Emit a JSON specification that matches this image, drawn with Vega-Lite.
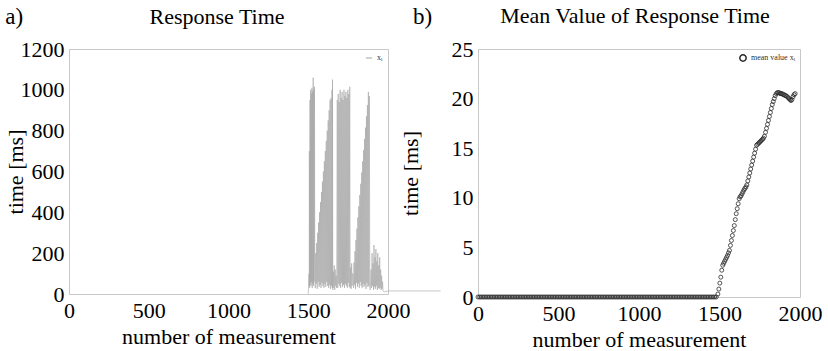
{
  "$schema": "https://vega.github.io/schema/vega-lite/v6.json",
  "background": "white",
  "padding": {"left": 3, "top": 4, "right": 0, "bottom": 0},
  "bounds": "flush",
  "spacing": 90,
  "config": {
    "font": "Liberation Serif",
    "view": {"stroke": "#c8c8c8", "strokeWidth": 1},
    "style": {"guide-label": {"font": "Liberation Serif"}, "guide-title": {"font": "Liberation Serif"}},
    "axis": {"labelFont": "Liberation Serif", "titleFont": "Liberation Serif", "labelFontSize": 22, "titleFontSize": 22, "titleFontWeight": "normal", "labelColor": "#000", "titleColor": "#000", "domainColor": "#c8c8c8", "ticks": false, "grid": false, "labelPadding": 5, "labelFlush": false, "labelOverlap": false, "format": "d"},
    "text": {"font": "Liberation Serif", "color": "#000"},
    "legend": {"labelFont": "Liberation Serif", "labelFontSize": 8, "labelColor": "#333333", "padding": 2, "offset": 3, "symbolSize": 40}
  },
  "datasets": {
    "resp": [
      {"n": 1500, "t": 0}, {"n": 1505, "t": 100}, {"n": 1506, "t": 40}, {"n": 1507, "t": 700}, {"n": 1509, "t": 30}, {"n": 1511, "t": 950}, {"n": 1513, "t": 50}, {"n": 1515, "t": 1000}, {"n": 1517, "t": 40}, {"n": 1519, "t": 980}, {"n": 1521, "t": 60}, {"n": 1523, "t": 1010}, {"n": 1525, "t": 30}, {"n": 1527, "t": 990}, {"n": 1529, "t": 50}, {"n": 1531, "t": 1060}, {"n": 1533, "t": 40}, {"n": 1535, "t": 1000}, {"n": 1537, "t": 60}, {"n": 1539, "t": 1015},
      {"n": 1541, "t": 150}, {"n": 1544, "t": 30}, {"n": 1547, "t": 200}, {"n": 1550, "t": 50}, {"n": 1553, "t": 250}, {"n": 1556, "t": 25}, {"n": 1559, "t": 300}, {"n": 1562, "t": 60}, {"n": 1565, "t": 350}, {"n": 1568, "t": 35}, {"n": 1571, "t": 400}, {"n": 1574, "t": 45}, {"n": 1577, "t": 450}, {"n": 1580, "t": 30}, {"n": 1583, "t": 500}, {"n": 1586, "t": 55}, {"n": 1589, "t": 550}, {"n": 1592, "t": 40}, {"n": 1595, "t": 600}, {"n": 1598, "t": 30}, {"n": 1601, "t": 650}, {"n": 1604, "t": 50}, {"n": 1607, "t": 700}, {"n": 1610, "t": 35}, {"n": 1613, "t": 750}, {"n": 1616, "t": 60}, {"n": 1619, "t": 800}, {"n": 1622, "t": 40}, {"n": 1625, "t": 850}, {"n": 1628, "t": 30}, {"n": 1631, "t": 900}, {"n": 1634, "t": 45}, {"n": 1637, "t": 950}, {"n": 1640, "t": 25}, {"n": 1643, "t": 960}, {"n": 1646, "t": 40}, {"n": 1649, "t": 1000}, {"n": 1651, "t": 30}, {"n": 1652, "t": 1050}, {"n": 1654, "t": 20},
      {"n": 1657, "t": 110}, {"n": 1660, "t": 30}, {"n": 1663, "t": 140}, {"n": 1666, "t": 20}, {"n": 1669, "t": 120}, {"n": 1672, "t": 40}, {"n": 1675, "t": 90}, {"n": 1678, "t": 30},
      {"n": 1682, "t": 950}, {"n": 1685, "t": 30}, {"n": 1688, "t": 980}, {"n": 1691, "t": 50}, {"n": 1694, "t": 940}, {"n": 1697, "t": 40}, {"n": 1700, "t": 1000}, {"n": 1703, "t": 30}, {"n": 1706, "t": 960}, {"n": 1709, "t": 55}, {"n": 1712, "t": 990}, {"n": 1715, "t": 35}, {"n": 1718, "t": 950}, {"n": 1721, "t": 45}, {"n": 1724, "t": 1000}, {"n": 1727, "t": 30}, {"n": 1730, "t": 970}, {"n": 1733, "t": 50}, {"n": 1736, "t": 990}, {"n": 1739, "t": 40}, {"n": 1742, "t": 960}, {"n": 1745, "t": 30}, {"n": 1748, "t": 1000}, {"n": 1751, "t": 55}, {"n": 1754, "t": 980}, {"n": 1757, "t": 35}, {"n": 1760, "t": 1015}, {"n": 1763, "t": 30},
      {"n": 1766, "t": 130}, {"n": 1769, "t": 25}, {"n": 1772, "t": 150}, {"n": 1775, "t": 40}, {"n": 1778, "t": 100},
      {"n": 1781, "t": 100}, {"n": 1784, "t": 30}, {"n": 1787, "t": 155}, {"n": 1790, "t": 45}, {"n": 1793, "t": 210}, {"n": 1796, "t": 25}, {"n": 1799, "t": 265}, {"n": 1802, "t": 55}, {"n": 1805, "t": 320}, {"n": 1808, "t": 35}, {"n": 1811, "t": 375}, {"n": 1814, "t": 50}, {"n": 1817, "t": 430}, {"n": 1820, "t": 30}, {"n": 1823, "t": 485}, {"n": 1826, "t": 60}, {"n": 1829, "t": 540}, {"n": 1832, "t": 40}, {"n": 1835, "t": 595}, {"n": 1838, "t": 30}, {"n": 1841, "t": 650}, {"n": 1844, "t": 50}, {"n": 1847, "t": 705}, {"n": 1850, "t": 35}, {"n": 1853, "t": 760}, {"n": 1856, "t": 45}, {"n": 1859, "t": 815}, {"n": 1862, "t": 25}, {"n": 1865, "t": 870}, {"n": 1868, "t": 55}, {"n": 1871, "t": 925}, {"n": 1874, "t": 35}, {"n": 1877, "t": 990}, {"n": 1880, "t": 40}, {"n": 1883, "t": 970}, {"n": 1886, "t": 30}, {"n": 1889, "t": 20},
      {"n": 1894, "t": 120}, {"n": 1897, "t": 30}, {"n": 1900, "t": 200}, {"n": 1903, "t": 40}, {"n": 1906, "t": 150}, {"n": 1909, "t": 20}, {"n": 1912, "t": 240}, {"n": 1915, "t": 35}, {"n": 1918, "t": 180}, {"n": 1921, "t": 25}, {"n": 1924, "t": 220}, {"n": 1927, "t": 40}, {"n": 1930, "t": 160}, {"n": 1933, "t": 20}, {"n": 1936, "t": 200}, {"n": 1939, "t": 30}, {"n": 1942, "t": 140}, {"n": 1945, "t": 25}, {"n": 1948, "t": 180}, {"n": 1951, "t": 30}, {"n": 1954, "t": 120}, {"n": 1957, "t": 20}, {"n": 1960, "t": 90}, {"n": 1963, "t": 25}, {"n": 1966, "t": 60}, {"n": 1969, "t": 15}, {"n": 1975, "t": 10}, {"n": 2000, "t": 15}, {"n": 2330, "t": 15}
    ],
    "mean": [
      {"n": 0, "m": 0}, {"n": 10, "m": 0}, {"n": 20, "m": 0}, {"n": 30, "m": 0}, {"n": 40, "m": 0}, {"n": 50, "m": 0}, {"n": 60, "m": 0}, {"n": 70, "m": 0}, {"n": 80, "m": 0}, {"n": 90, "m": 0},
      {"n": 100, "m": 0}, {"n": 110, "m": 0}, {"n": 120, "m": 0}, {"n": 130, "m": 0}, {"n": 140, "m": 0}, {"n": 150, "m": 0}, {"n": 160, "m": 0}, {"n": 170, "m": 0}, {"n": 180, "m": 0}, {"n": 190, "m": 0},
      {"n": 200, "m": 0}, {"n": 210, "m": 0}, {"n": 220, "m": 0}, {"n": 230, "m": 0}, {"n": 240, "m": 0}, {"n": 250, "m": 0}, {"n": 260, "m": 0}, {"n": 270, "m": 0}, {"n": 280, "m": 0}, {"n": 290, "m": 0},
      {"n": 300, "m": 0}, {"n": 310, "m": 0}, {"n": 320, "m": 0}, {"n": 330, "m": 0}, {"n": 340, "m": 0}, {"n": 350, "m": 0}, {"n": 360, "m": 0}, {"n": 370, "m": 0}, {"n": 380, "m": 0}, {"n": 390, "m": 0},
      {"n": 400, "m": 0}, {"n": 410, "m": 0}, {"n": 420, "m": 0}, {"n": 430, "m": 0}, {"n": 440, "m": 0}, {"n": 450, "m": 0}, {"n": 460, "m": 0}, {"n": 470, "m": 0}, {"n": 480, "m": 0}, {"n": 490, "m": 0},
      {"n": 500, "m": 0}, {"n": 510, "m": 0}, {"n": 520, "m": 0}, {"n": 530, "m": 0}, {"n": 540, "m": 0}, {"n": 550, "m": 0}, {"n": 560, "m": 0}, {"n": 570, "m": 0}, {"n": 580, "m": 0}, {"n": 590, "m": 0},
      {"n": 600, "m": 0}, {"n": 610, "m": 0}, {"n": 620, "m": 0}, {"n": 630, "m": 0}, {"n": 640, "m": 0}, {"n": 650, "m": 0}, {"n": 660, "m": 0}, {"n": 670, "m": 0}, {"n": 680, "m": 0}, {"n": 690, "m": 0},
      {"n": 700, "m": 0}, {"n": 710, "m": 0}, {"n": 720, "m": 0}, {"n": 730, "m": 0}, {"n": 740, "m": 0}, {"n": 750, "m": 0}, {"n": 760, "m": 0}, {"n": 770, "m": 0}, {"n": 780, "m": 0}, {"n": 790, "m": 0},
      {"n": 800, "m": 0}, {"n": 810, "m": 0}, {"n": 820, "m": 0}, {"n": 830, "m": 0}, {"n": 840, "m": 0}, {"n": 850, "m": 0}, {"n": 860, "m": 0}, {"n": 870, "m": 0}, {"n": 880, "m": 0}, {"n": 890, "m": 0},
      {"n": 900, "m": 0}, {"n": 910, "m": 0}, {"n": 920, "m": 0}, {"n": 930, "m": 0}, {"n": 940, "m": 0}, {"n": 950, "m": 0}, {"n": 960, "m": 0}, {"n": 970, "m": 0}, {"n": 980, "m": 0}, {"n": 990, "m": 0},
      {"n": 1000, "m": 0}, {"n": 1010, "m": 0}, {"n": 1020, "m": 0}, {"n": 1030, "m": 0}, {"n": 1040, "m": 0}, {"n": 1050, "m": 0}, {"n": 1060, "m": 0}, {"n": 1070, "m": 0}, {"n": 1080, "m": 0}, {"n": 1090, "m": 0},
      {"n": 1100, "m": 0}, {"n": 1110, "m": 0}, {"n": 1120, "m": 0}, {"n": 1130, "m": 0}, {"n": 1140, "m": 0}, {"n": 1150, "m": 0}, {"n": 1160, "m": 0}, {"n": 1170, "m": 0}, {"n": 1180, "m": 0}, {"n": 1190, "m": 0},
      {"n": 1200, "m": 0}, {"n": 1210, "m": 0}, {"n": 1220, "m": 0}, {"n": 1230, "m": 0}, {"n": 1240, "m": 0}, {"n": 1250, "m": 0}, {"n": 1260, "m": 0}, {"n": 1270, "m": 0}, {"n": 1280, "m": 0}, {"n": 1290, "m": 0},
      {"n": 1300, "m": 0}, {"n": 1310, "m": 0}, {"n": 1320, "m": 0}, {"n": 1330, "m": 0}, {"n": 1340, "m": 0}, {"n": 1350, "m": 0}, {"n": 1360, "m": 0}, {"n": 1370, "m": 0}, {"n": 1380, "m": 0}, {"n": 1390, "m": 0},
      {"n": 1400, "m": 0}, {"n": 1410, "m": 0}, {"n": 1420, "m": 0}, {"n": 1430, "m": 0}, {"n": 1440, "m": 0}, {"n": 1450, "m": 0}, {"n": 1460, "m": 0}, {"n": 1470, "m": 0}, {"n": 1480, "m": 0},
      {"n": 1490, "m": 0.3}, {"n": 1496, "m": 0.8}, {"n": 1502, "m": 1.4}, {"n": 1508, "m": 2.0}, {"n": 1514, "m": 2.7},
      {"n": 1520, "m": 3.2}, {"n": 1526, "m": 3.4}, {"n": 1532, "m": 3.6}, {"n": 1538, "m": 3.8}, {"n": 1544, "m": 4.0}, {"n": 1550, "m": 4.2}, {"n": 1556, "m": 4.45}, {"n": 1562, "m": 4.7},
      {"n": 1568, "m": 5.2}, {"n": 1574, "m": 5.7}, {"n": 1580, "m": 6.2}, {"n": 1586, "m": 6.7}, {"n": 1592, "m": 7.2}, {"n": 1598, "m": 7.8}, {"n": 1604, "m": 8.4}, {"n": 1610, "m": 8.9}, {"n": 1616, "m": 9.4}, {"n": 1622, "m": 9.9},
      {"n": 1628, "m": 10.1}, {"n": 1634, "m": 10.2}, {"n": 1640, "m": 10.4}, {"n": 1646, "m": 10.6}, {"n": 1652, "m": 10.8}, {"n": 1658, "m": 10.95}, {"n": 1664, "m": 11.1}, {"n": 1670, "m": 11.3},
      {"n": 1676, "m": 11.7}, {"n": 1682, "m": 12.1}, {"n": 1688, "m": 12.5}, {"n": 1694, "m": 12.9}, {"n": 1700, "m": 13.3}, {"n": 1706, "m": 13.7}, {"n": 1712, "m": 14.1}, {"n": 1718, "m": 14.5}, {"n": 1724, "m": 14.9}, {"n": 1730, "m": 15.3},
      {"n": 1737, "m": 15.4}, {"n": 1743, "m": 15.5}, {"n": 1749, "m": 15.6}, {"n": 1755, "m": 15.7}, {"n": 1761, "m": 15.8}, {"n": 1767, "m": 15.9}, {"n": 1773, "m": 16.0}, {"n": 1779, "m": 16.2},
      {"n": 1786, "m": 16.6}, {"n": 1792, "m": 17.0}, {"n": 1798, "m": 17.4}, {"n": 1804, "m": 17.8}, {"n": 1810, "m": 18.2}, {"n": 1816, "m": 18.6}, {"n": 1822, "m": 19.0}, {"n": 1828, "m": 19.4}, {"n": 1834, "m": 19.7}, {"n": 1840, "m": 20.0}, {"n": 1846, "m": 20.3},
      {"n": 1853, "m": 20.5}, {"n": 1859, "m": 20.6}, {"n": 1865, "m": 20.6}, {"n": 1871, "m": 20.6}, {"n": 1877, "m": 20.5}, {"n": 1883, "m": 20.5}, {"n": 1889, "m": 20.5}, {"n": 1895, "m": 20.4}, {"n": 1901, "m": 20.4}, {"n": 1907, "m": 20.3}, {"n": 1913, "m": 20.3},
      {"n": 1920, "m": 20.2}, {"n": 1926, "m": 20.1}, {"n": 1932, "m": 20.0}, {"n": 1938, "m": 19.9}, {"n": 1944, "m": 19.8}, {"n": 1950, "m": 19.9},
      {"n": 1957, "m": 20.2}, {"n": 1963, "m": 20.4}, {"n": 1970, "m": 20.5}
    ],
    "labels": [
      {"panel": "a", "text": "a)", "kind": "tag"},
      {"panel": "a", "text": "Response Time", "kind": "title"},
      {"panel": "b", "text": "b)", "kind": "tag"},
      {"panel": "b", "text": "Mean Value of Response Time", "kind": "title"}
    ]
  },
  "resolve": {"scale": {"color": "independent"}, "legend": {"color": "independent"}},
  "hconcat": [
    {
      "width": 319,
      "height": 245,
      "layer": [
        {
          "data": {"name": "resp"},
          "transform": [{"calculate": "'xᵢ'", "as": "s"}],
          "mark": {"type": "line", "strokeWidth": 0.6, "clip": false},
          "encoding": {
            "x": {"field": "n", "type": "quantitative", "scale": {"domain": [0, 2000], "nice": false}, "axis": {"values": [0, 500, 1000, 1500, 2000], "title": "number of measurement", "titlePadding": 5, "labelPadding": 6}},
            "y": {"field": "t", "type": "quantitative", "scale": {"domain": [0, 1200], "nice": false}, "axis": {"values": [0, 200, 400, 600, 800, 1000, 1200], "title": "time [ms]", "titlePadding": -7}},
            "color": {"field": "s", "type": "nominal", "scale": {"range": ["#a4a4a4"]}, "legend": {"title": null, "orient": "top-right", "symbolType": "stroke", "symbolStrokeWidth": 1}}
          }
        },
        {
          "data": {"name": "labels"},
          "transform": [{"filter": "datum.panel == 'a' && datum.kind == 'tag'"}],
          "mark": {"type": "text", "fontSize": 23, "align": "left", "baseline": "middle", "font": "Liberation Serif", "color": "#000"},
          "encoding": {"x": {"datum": -400}, "y": {"datum": 1357}, "text": {"field": "text"}}
        },
        {
          "data": {"name": "labels"},
          "transform": [{"filter": "datum.panel == 'a' && datum.kind == 'title'"}],
          "mark": {"type": "text", "fontSize": 22, "align": "center", "baseline": "middle", "font": "Liberation Serif", "color": "#000"},
          "encoding": {"x": {"datum": 928}, "y": {"datum": 1357}, "text": {"field": "text"}}
        }
      ]
    },
    {
      "width": 322,
      "height": 248,
      "layer": [
        {
          "data": {"name": "mean"},
          "transform": [{"calculate": "'mean value xᵢ'", "as": "s"}],
          "mark": {"type": "point", "filled": false, "size": 16, "strokeWidth": 0.8, "opacity": 1},
          "encoding": {
            "x": {"field": "n", "type": "quantitative", "scale": {"domain": [0, 2000], "nice": false}, "axis": {"values": [0, 500, 1000, 1500, 2000], "title": "number of measurement", "titlePadding": 5, "labelPadding": 6}},
            "y": {"field": "m", "type": "quantitative", "scale": {"domain": [0, 25], "nice": false}, "axis": {"values": [0, 5, 10, 15, 20, 25], "title": "time [ms]", "titlePadding": 29}},
            "color": {"field": "s", "type": "nominal", "scale": {"range": ["#2a2a2a"]}, "legend": {"title": null, "orient": "top-right", "symbolType": "circle"}}
          }
        },
        {
          "data": {"name": "labels"},
          "transform": [{"filter": "datum.panel == 'b' && datum.kind == 'tag'"}],
          "mark": {"type": "text", "fontSize": 23, "align": "left", "baseline": "middle", "font": "Liberation Serif", "color": "#000"},
          "encoding": {"x": {"datum": -404}, "y": {"datum": 28.2}, "text": {"field": "text"}}
        },
        {
          "data": {"name": "labels"},
          "transform": [{"filter": "datum.panel == 'b' && datum.kind == 'title'"}],
          "mark": {"type": "text", "fontSize": 22, "align": "center", "baseline": "middle", "font": "Liberation Serif", "color": "#000"},
          "encoding": {"x": {"datum": 975}, "y": {"datum": 28.3}, "text": {"field": "text"}}
        }
      ]
    }
  ]
}
